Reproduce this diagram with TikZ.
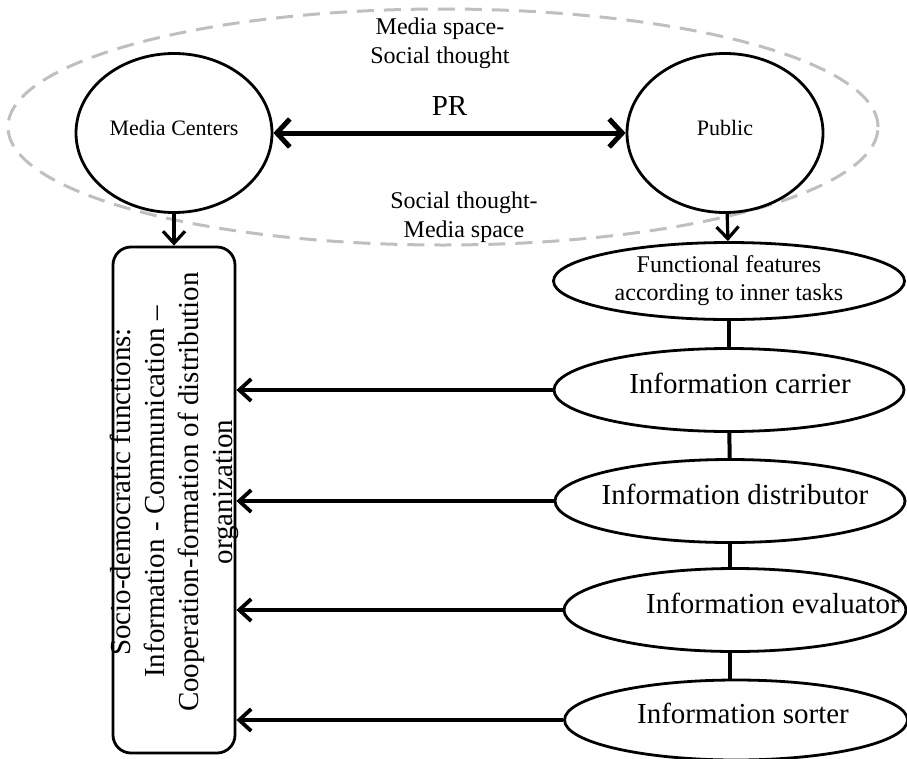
\documentclass[tikz,border=0pt]{standalone}
\usepackage{fontspec}
\setmainfont{Liberation Serif}
\usepackage{tikz}
\usetikzlibrary{shapes.geometric, arrows.meta}
\tikzstyle{oval} = [ellipse, draw, line width=2.8pt, inner sep=2pt]
\tikzstyle{hub} = [oval, minimum width=196pt, minimum height=159pt, font=\fontsize{22}{26}\selectfont, text height=15pt, text depth=10pt]
\tikzstyle{task} = [oval, minimum width=350pt, minimum height=83pt, font=\fontsize{29}{34}\selectfont, text height=20pt, text depth=13pt]
\tikzstyle{taskhead} = [oval, minimum width=351pt, minimum height=77pt, align=center, font=\fontsize{24}{28}\selectfont]
\tikzstyle{spacering} = [ellipse, draw=black!25, line width=3pt, dash pattern=on 17pt off 10pt, minimum width=870pt, minimum height=236pt]
\tikzstyle{funcbox} = [rectangle, draw, rounded corners=18pt, line width=2.8pt, minimum width=122pt, minimum height=506pt]
\tikzstyle{caption} = [align=center, font=\fontsize{24}{29}\selectfont]
\tikzstyle{line} = [draw, line width=3.8pt, -{Straight Barb[length=12pt,width=22pt]}]
\tikzstyle{twoway} = [draw, line width=5pt, {Straight Barb[length=13pt,width=28pt]}-{Straight Barb[length=13pt,width=28pt]}]
\tikzstyle{link} = [draw, line width=4pt]
\newcommand{\nudge}[2]{\makebox[0pt]{\hspace*{#1}#2}}

\begin{document}
\begin{tikzpicture}[x=1pt, y=-1pt, auto]
\useasboundingbox (0,0) rectangle (907,758);

\node [spacering] (space) at (443,127) {};
\node [caption] (upper) at (440,43) {Media space-\\Social thought};
\node [caption] (lower) at (464,217) {Social thought-\\Media space};

\node [hub] (mediactr) at (174,133) {Media Centers};
\node [hub] (public) at (725,133) {Public};

\node [funcbox] (socbox) at (174,500) {};
\node [rotate=90, align=center, font=\fontsize{29}{34}\selectfont] (soctext) at (174,492) {Socio-democratic functions:\\Information - Communication –\\Cooperation-formation of distribution\\organization};

\node [taskhead] (funcs) at (729,281) {Functional features\\according to inner tasks};
\node [task] (carrier) at (729,390) {\nudge{22pt}{Information carrier}};
\node [task] (distrib) at (730,501) {\nudge{10pt}{Information distributor}};
\node [task, minimum width=342pt] (evaluator) at (735,610) {\nudge{76pt}{Information evaluator}};
\node [task, minimum width=343pt, minimum height=80pt] (sorter) at (736,720) {\nudge{14pt}{Information sorter}};

\path [twoway] (mediactr) -- node[above=12pt, font=\fontsize{29}{34}\selectfont] {PR} (public);
\path [line, line width=3.2pt] (mediactr) -- (socbox);
\path [line, line width=3.2pt] (public) -- (funcs);

\path [link] (funcs) -- (carrier);
\path [link] (carrier) -- (distrib);
\path [link] (distrib.south) -- (distrib.south |- evaluator.north);
\path [link] (evaluator.south -| distrib.south) -- (sorter.north -| distrib.south);

\path [line] (carrier.west) -- (carrier.west -| socbox.east);
\path [line] (distrib.west) -- (distrib.west -| socbox.east);
\path [line] (evaluator.west) -- (evaluator.west -| socbox.east);
\path [line] (sorter.west) -- (sorter.west -| socbox.east);

\end{tikzpicture}
\end{document}
